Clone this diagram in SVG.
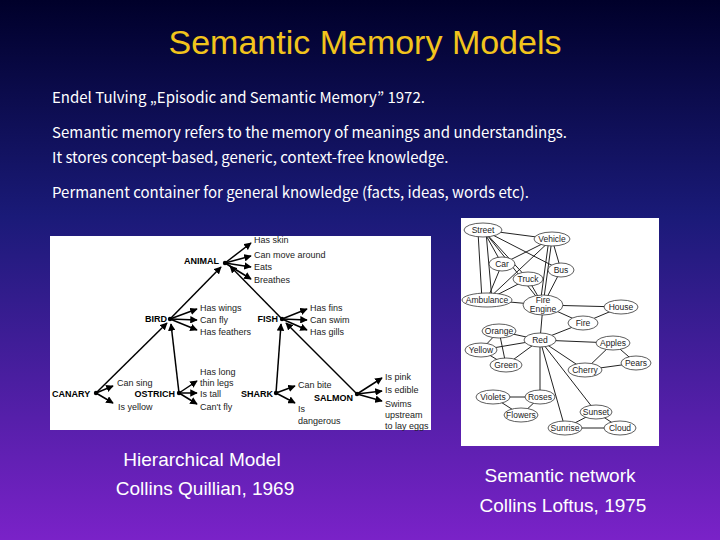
<svg xmlns="http://www.w3.org/2000/svg" width="720" height="540" viewBox="0 0 720 540">
<defs>
<linearGradient id="bg" x1="0" y1="0" x2="0" y2="1">
<stop offset="0" stop-color="#00002a"/><stop offset="0.4" stop-color="#1a1a78"/><stop offset="1" stop-color="#7a22c8"/>
</linearGradient>
<marker id="ah" viewBox="0 0 10 10" refX="9" refY="5" markerWidth="5" markerHeight="5" orient="auto"><path d="M0,0L10,5L0,10z" fill="#000"/></marker>
<style>
.t{font-family:"Noto Sans CJK JP","DejaVu Sans",sans-serif;font-size:15px;fill:#fff}
.c{font-family:"Liberation Sans",Arial,sans-serif;font-size:19px;fill:#fff;text-anchor:middle}
.l{font-family:"Liberation Sans",Arial,sans-serif;font-size:9px;fill:#222}
.b{font-family:"Liberation Sans",Arial,sans-serif;font-size:9px;font-weight:bold;fill:#000}
.a line{stroke:#000;stroke-width:1.5;marker-end:url(#ah)}
.n ellipse{fill:#fff;stroke:#333;stroke-width:0.8}
.n text{font-family:"Liberation Sans",Arial,sans-serif;font-size:8.5px;fill:#222;text-anchor:middle}
.e line{stroke:#222;stroke-width:1}
</style>
</defs>
<rect width="720" height="540" fill="url(#bg)"/>
<text x="365" y="54" font-family="Liberation Sans,Arial,sans-serif" font-size="34" fill="#f2c41c" text-anchor="middle">Semantic Memory Models</text>
<text class="t" x="52" y="103">Endel Tulving „Episodic and Semantic Memory” 1972.</text>
<text class="t" x="52" y="138">Semantic memory refers to the memory of meanings and understandings.</text>
<text class="t" x="52" y="163">It stores concept-based, generic, context-free knowledge.</text>
<text class="t" x="52" y="198">Permanent container for general knowledge (facts, ideas, words etc).</text>

<g id="hierarchical">
<rect x="50" y="236" width="381" height="194" fill="#fff"/>
<g class="a" id="h-arrows">
<line x1="225" y1="263" x2="251" y2="243"/><line x1="225" y1="263" x2="251" y2="256"/><line x1="225" y1="263" x2="251" y2="267"/><line x1="225" y1="263" x2="251" y2="279"/>
<line x1="170" y1="319" x2="221" y2="267"/><line x1="282" y1="319" x2="230" y2="266"/>
<line x1="170" y1="319" x2="197" y2="309"/><line x1="170" y1="319" x2="197" y2="320"/><line x1="170" y1="319" x2="197" y2="330"/>
<line x1="282" y1="319" x2="307" y2="309"/><line x1="282" y1="319" x2="307" y2="320"/><line x1="282" y1="319" x2="307" y2="330"/>
<line x1="96" y1="393" x2="167" y2="323"/><line x1="179" y1="393" x2="171" y2="324"/>
<line x1="276" y1="393" x2="281" y2="324"/><line x1="357" y1="394" x2="286" y2="323"/>
<line x1="96" y1="393" x2="113" y2="386"/><line x1="96" y1="393" x2="113" y2="403"/>
<line x1="179" y1="393" x2="197" y2="381"/><line x1="179" y1="393" x2="197" y2="393"/><line x1="179" y1="393" x2="197" y2="404"/>
<line x1="276" y1="393" x2="295" y2="386"/><line x1="276" y1="393" x2="295" y2="403"/>
<line x1="357" y1="394" x2="382" y2="378"/><line x1="357" y1="394" x2="382" y2="391"/><line x1="357" y1="394" x2="382" y2="401"/>
</g>
<g fill="#000"><circle cx="225" cy="263" r="2.2"/><circle cx="170" cy="319" r="2.2"/><circle cx="282" cy="319" r="2.2"/><circle cx="96" cy="393" r="2.2"/><circle cx="179" cy="393" r="2.2"/><circle cx="276" cy="393" r="2.2"/><circle cx="357" cy="394" r="2.2"/></g>
<text class="b" x="219" y="264" text-anchor="end">ANIMAL</text>
<text class="b" x="167" y="322" text-anchor="end">BIRD</text>
<text class="b" x="278" y="322" text-anchor="end">FISH</text>
<text class="b" x="52" y="397">CANARY</text>
<text class="b" x="175" y="397" text-anchor="end">OSTRICH</text>
<text class="b" x="241" y="397">SHARK</text>
<text class="b" x="353" y="401" text-anchor="end">SALMON</text>
<text class="l" x="254" y="243">Has skin</text><text class="l" x="254" y="258">Can move around</text><text class="l" x="254" y="270">Eats</text><text class="l" x="254" y="283">Breathes</text>
<text class="l" x="200" y="311">Has wings</text><text class="l" x="200" y="323">Can fly</text><text class="l" x="200" y="335">Has feathers</text>
<text class="l" x="310" y="311">Has fins</text><text class="l" x="310" y="323">Can swim</text><text class="l" x="310" y="335">Has gills</text>
<text class="l" x="117" y="386">Can sing</text><text class="l" x="118" y="410">Is yellow</text>
<text class="l" x="200" y="375">Has long</text><text class="l" x="200" y="386">thin legs</text><text class="l" x="200" y="397">Is tall</text><text class="l" x="200" y="410">Can't fly</text>
<text class="l" x="298" y="388">Can bite</text><text class="l" x="298" y="412">Is</text><text class="l" x="298" y="424">dangerous</text>
<text class="l" x="385" y="380">Is pink</text><text class="l" x="385" y="393">Is edible</text><text class="l" x="385" y="407">Swims</text><text class="l" x="385" y="418">upstream</text><text class="l" x="385" y="429">to lay eggs</text>
</g>

<g id="network">
<rect x="461" y="218" width="198" height="228" fill="#fff"/>
<g class="e" id="n-edges">
<line x1="483" y1="230" x2="552" y2="239"/><line x1="483" y1="230" x2="502" y2="264"/><line x1="483" y1="230" x2="561" y2="270"/><line x1="478" y1="232" x2="482" y2="300"/><line x1="486" y1="232" x2="492" y2="300"/><line x1="483" y1="230" x2="543" y2="305"/><line x1="483" y1="230" x2="528" y2="279"/>
<line x1="552" y1="239" x2="502" y2="264"/><line x1="552" y1="239" x2="487" y2="300"/><line x1="552" y1="239" x2="561" y2="270"/><line x1="552" y1="239" x2="543" y2="305"/><line x1="549" y1="239" x2="540" y2="305"/>
<line x1="502" y1="264" x2="487" y2="300"/><line x1="528" y1="279" x2="543" y2="305"/><line x1="528" y1="279" x2="487" y2="300"/><line x1="561" y1="270" x2="543" y2="305"/>
<line x1="543" y1="305" x2="621" y2="307"/><line x1="543" y1="305" x2="583" y2="323"/><line x1="543" y1="305" x2="540" y2="340"/><line x1="543" y1="305" x2="487" y2="300"/>
<line x1="583" y1="323" x2="621" y2="307"/><line x1="583" y1="323" x2="540" y2="340"/>
<line x1="540" y1="340" x2="499" y2="331"/><line x1="540" y1="340" x2="481" y2="350"/><line x1="540" y1="340" x2="506" y2="365"/><line x1="540" y1="340" x2="613" y2="343"/><line x1="540" y1="340" x2="585" y2="370"/><line x1="540" y1="340" x2="540" y2="397"/><line x1="540" y1="340" x2="596" y2="412"/><line x1="540" y1="340" x2="565" y2="428"/>
<line x1="499" y1="331" x2="481" y2="350"/><line x1="499" y1="331" x2="506" y2="365"/><line x1="481" y1="350" x2="506" y2="365"/>
<line x1="613" y1="343" x2="585" y2="370"/><line x1="613" y1="343" x2="636" y2="363"/><line x1="636" y1="363" x2="585" y2="370"/>
<line x1="493" y1="397" x2="540" y2="397"/><line x1="493" y1="397" x2="521" y2="415"/><line x1="540" y1="397" x2="521" y2="415"/>
<line x1="596" y1="412" x2="565" y2="428"/><line x1="565" y1="428" x2="620" y2="428"/><line x1="596" y1="412" x2="620" y2="428"/>
</g>
<g class="n" id="n-street"><ellipse cx="483" cy="230" rx="19" ry="7"/><text x="483" y="233">Street</text></g>
<g class="n" id="n-vehicle"><ellipse cx="552" cy="239" rx="18" ry="7"/><text x="552" y="242">Vehicle</text></g>
<g class="n" id="n-car"><ellipse cx="502" cy="264" rx="13" ry="7"/><text x="502" y="267">Car</text></g>
<g class="n" id="n-bus"><ellipse cx="561" cy="270" rx="13" ry="7"/><text x="561" y="273">Bus</text></g>
<g class="n" id="n-truck"><ellipse cx="528" cy="279" rx="15" ry="7"/><text x="528" y="282">Truck</text></g>
<g class="n" id="n-ambulance"><ellipse cx="487" cy="300" rx="25" ry="7"/><text x="487" y="303">Ambulance</text></g>
<g class="n" id="n-fireengine"><ellipse cx="543" cy="305" rx="20" ry="10"/><text x="543" y="303">Fire</text><text x="543" y="312">Engine</text></g>
<g class="n" id="n-house"><ellipse cx="621" cy="307" rx="17" ry="7"/><text x="621" y="310">House</text></g>
<g class="n" id="n-fire"><ellipse cx="583" cy="323" rx="15" ry="7"/><text x="583" y="326">Fire</text></g>
<g class="n" id="n-orange"><ellipse cx="499" cy="331" rx="17" ry="7"/><text x="499" y="334">Orange</text></g>
<g class="n" id="n-red"><ellipse cx="540" cy="340" rx="16" ry="7"/><text x="540" y="343">Red</text></g>
<g class="n" id="n-yellow"><ellipse cx="481" cy="350" rx="16" ry="7"/><text x="481" y="353">Yellow</text></g>
<g class="n" id="n-apples"><ellipse cx="613" cy="343" rx="17" ry="7"/><text x="613" y="346">Apples</text></g>
<g class="n" id="n-pears"><ellipse cx="636" cy="363" rx="15" ry="7"/><text x="636" y="366">Pears</text></g>
<g class="n" id="n-green"><ellipse cx="506" cy="365" rx="16" ry="7"/><text x="506" y="368">Green</text></g>
<g class="n" id="n-cherry"><ellipse cx="585" cy="370" rx="17" ry="7"/><text x="585" y="373">Cherry</text></g>
<g class="n" id="n-violets"><ellipse cx="493" cy="397" rx="17" ry="7"/><text x="493" y="400">Violets</text></g>
<g class="n" id="n-roses"><ellipse cx="540" cy="397" rx="15" ry="7"/><text x="540" y="400">Roses</text></g>
<g class="n" id="n-flowers"><ellipse cx="521" cy="415" rx="17" ry="7"/><text x="521" y="418">Flowers</text></g>
<g class="n" id="n-sunset"><ellipse cx="596" cy="412" rx="16" ry="7"/><text x="596" y="415">Sunset</text></g>
<g class="n" id="n-sunrise"><ellipse cx="565" cy="428" rx="17" ry="7"/><text x="565" y="431">Sunrise</text></g>
<g class="n" id="n-cloud"><ellipse cx="620" cy="428" rx="16" ry="7"/><text x="620" y="431">Cloud</text></g>
</g>

<text class="c" x="202" y="466">Hierarchical Model</text>
<text class="c" x="205" y="495">Collins   Quillian, 1969</text>
<text class="c" x="560" y="482">Semantic network</text>
<text class="c" x="563" y="512">Collins   Loftus, 1975</text>
</svg>
